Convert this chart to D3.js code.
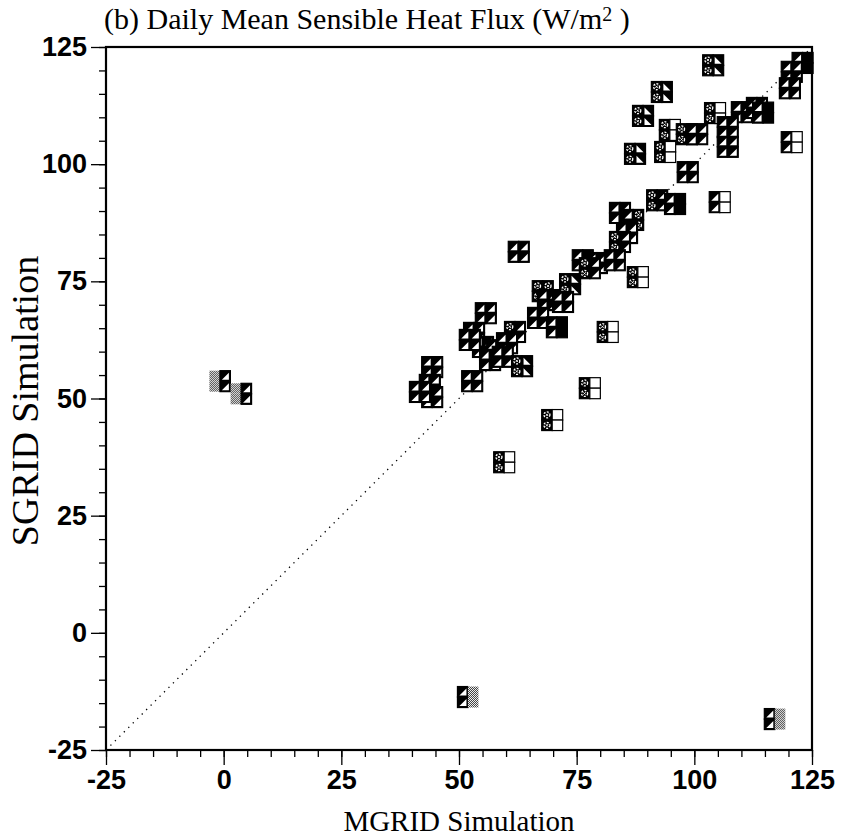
<!DOCTYPE html>
<html>
<head>
<meta charset="utf-8">
<script src="https://cdn.jsdelivr.net/npm/d3@7"></script>
<style>
body { margin: 0; background: #fff; }
svg { display: block; }
</style>
</head>
<body>
<svg></svg>
<script>
// MGRID (x) and SGRID (y) daily mean sensible heat flux, W/m2
var mgrid = [-0.8, 3.7, 51.9, 117.1, 104, 123, 120.7, 120.3, 93.1, 89.1,
    104.4, 110.1, 113.3, 114.6, 94.8, 98.4, 100.6, 107.1, 107.1, 120.7,
    87.4, 93.8, 98.6, 105.4, 92.1, 95.9, 84.2, 87, 85.7, 84.2,
    76.3, 79.3, 83.1, 77.8, 88, 62.7, 73.6, 67.8, 68.9, 72.1,
    66.8, 70.8, 81.6, 55.7, 53.2, 61.9, 55.1, 58, 60.2, 56.6,
    59.3, 52.3, 63.4, 52.8, 44.3, 43.8, 44.3, 41.7, 77.8, 69.8, 59.6]
var sgrid = [53.7, 51, -13.7, -18.4, 121.1, 121.6, 119.7, 116.2, 115.4, 110.3,
    110.9, 111.1, 112, 111, 107.3, 106.4, 106.4, 107.9, 103.7, 104.7,
    102.2, 102.6, 98.3, 91.9, 92.3, 91.5, 89.6, 88.1, 85.3, 83.4,
    79.5, 78.9, 79.5, 77.8, 75.9, 81.3, 74.4, 72.9, 71, 70.6,
    67.2, 65.2, 64.2, 68.2, 64, 64.2, 61, 60.3, 61.8, 58.2,
    58.9, 62.5, 56.9, 53.7, 56.7, 52.9, 50.3, 51.4, 52.2, 45.4, 36.4]
// glyph quadrants: top-left, top-right, bottom-left, bottom-right
// T triangle, D dotted, E empty, S solid, R reverse triangle, G grey
var glyphs = ["GTGT", "GTGT", "TGTG", "TGTG", "DRDR", "TSTS", "TTTT", "TTTT", "DRDR", "DRDR",
    "DEDE", "TTTT", "TTTT", "TSTS", "DEDE", "DTDT", "TTTT", "TTTT", "TTTT", "TETE",
    "DRDR", "DEDE", "TTTT", "TETE", "DTDT", "TSTS", "TTTT", "TDTD", "TTTT", "DTDT",
    "TTTT", "TTTT", "TTTT", "DTDT", "DEDE", "TTTT", "DRDR", "DDDD", "TTTT", "TTTT",
    "TTTT", "TSTS", "DEDE", "TTTT", "TTTT", "DTDT", "TTTT", "TSTS", "TTTT", "TTTT",
    "TTTT", "TTTT", "DRDR", "TTTT", "TTTT", "TTTT", "TTTT", "TTTT", "DEDE", "DEDE", "DEDE"]
var majorTicks = [-25, 0, 25, 50, 75, 100, 125]

var screen = {width: 842, height: 838}
var margins = {top: 47, right: 30, bottom: 88, left: 106}
var width = screen.width - margins.left - margins.right
var height = screen.height - margins.top - margins.bottom

var svg = d3.select("svg")
    .attr("width", screen.width)
    .attr("height", screen.height)

var defs = svg.append("defs")
var grey = defs.append("pattern").attr("id", "grey")
    .attr("patternUnits", "userSpaceOnUse").attr("width", 2).attr("height", 2)
grey.append("rect").attr("width", 2).attr("height", 2).attr("fill", "#fff")
grey.append("rect").attr("width", 1).attr("height", 1).attr("fill", "#333")
grey.append("rect").attr("x", 1).attr("y", 1).attr("width", 1).attr("height", 1).attr("fill", "#333")

var xScale = d3.scaleLinear().domain([-25, 125]).range([0, width])
var yScale = d3.scaleLinear().domain([-25, 125]).range([height, 0])

var graph = svg.append("g")
    .attr("transform", "translate(" + margins.left + "," + margins.top + ")")

// minor ticks every 5
var minor = d3.range(-25, 126, 5)
graph.append("g")
    .attr("transform", "translate(0," + height + ")")
    .call(d3.axisBottom(xScale).tickValues(minor).tickSize(7).tickFormat(""))
graph.append("g")
    .call(d3.axisLeft(yScale).tickValues(minor).tickSize(7).tickFormat(""))

var label = function(d) { return String(d) }
graph.append("g")
    .attr("transform", "translate(0," + height + ")")
    .call(d3.axisBottom(xScale).tickValues(majorTicks).tickSize(15).tickPadding(5).tickFormat(label))
graph.append("g")
    .call(d3.axisLeft(yScale).tickValues(majorTicks).tickSize(15).tickPadding(4).tickFormat(label))

graph.selectAll(".domain").remove()
graph.selectAll(".tick line").attr("stroke", "#000").attr("stroke-width", 1.3)
graph.selectAll(".tick text")
    .attr("font-family", "'Liberation Sans', Arial, sans-serif")
    .attr("font-weight", "bold")
    .attr("font-size", 27)
    .attr("fill", "#000")

// frame
graph.append("rect")
    .attr("x", 0).attr("y", 0)
    .attr("width", width).attr("height", height)
    .attr("fill", "none").attr("stroke", "#000").attr("stroke-width", 2.2)

// 1:1 line
graph.append("line")
    .attr("x1", xScale(-25)).attr("y1", yScale(-25))
    .attr("x2", xScale(125)).attr("y2", yScale(125))
    .attr("stroke", "#000").attr("stroke-width", 1.3)
    .attr("stroke-dasharray", "1.3,5")

var points = mgrid.map(function(m, i) {
    return {x: m, y: sgrid[i], glyph: glyphs[i]}
})

var cs = 10.5
var cells = [[-cs, -cs], [0, -cs], [-cs, 0], [0, 0]]

var drawCell = function(g, type, x, y) {
    if (type == "G") {
        g.append("rect").attr("x", x).attr("y", y).attr("width", cs).attr("height", cs)
            .attr("fill", "url(#grey)")
        return
    }
    var fill = {T: "#000", D: "#000", E: "#fff", S: "#000", R: "#000"}[type]
    g.append("rect").attr("x", x).attr("y", y).attr("width", cs).attr("height", cs)
        .attr("fill", fill).attr("stroke", "#000").attr("stroke-width", 1.2)
    if (type == "T") {
        g.append("polygon")
            .attr("points", [[x + 2, y + cs - 1.5], [x + cs - 1.5, y + cs - 1.5], [x + cs - 1.5, y + 2]].join(" "))
            .attr("fill", "#fff")
    }
    if (type == "R") {
        g.append("polygon")
            .attr("points", [[x + 1.5, y + 2], [x + 1.5, y + cs - 1.5], [x + cs - 2, y + cs - 1.5]].join(" "))
            .attr("fill", "#fff")
    }
    if (type == "D") {
        var cx = x + cs / 2, cy = y + cs / 2
        g.append("circle").attr("cx", cx).attr("cy", cy).attr("r", 3)
            .attr("fill", "none").attr("stroke", "#fff").attr("stroke-width", 1.3)
            .attr("stroke-dasharray", "2,1.4")
        g.append("path")
            .attr("d", "M" + (cx - 1.2) + "," + (cy - 1.2) + "L" + (cx + 1.2) + "," + (cy + 1.2) +
                "M" + (cx + 1.2) + "," + (cy - 1.2) + "L" + (cx - 1.2) + "," + (cy + 1.2))
            .attr("stroke", "#fff").attr("stroke-width", 0.9)
    }
}

var marks = graph.selectAll(".mark")
    .data(points)
    .enter()
    .append("g")
    .attr("class", "mark")
    .attr("transform", function(d) {
        return "translate(" + xScale(d.x) + "," + yScale(d.y) + ")"
    })

marks.each(function(d) {
    var g = d3.select(this)
    cells.forEach(function(c, k) {
        drawCell(g, d.glyph[k], c[0], c[1])
    })
})

// titles
svg.append("text")
    .attr("x", 104).attr("y", 29)
    .attr("font-family", "'Liberation Serif', 'Times New Roman', serif")
    .attr("font-size", 30)
    .html("(b) Daily Mean Sensible Heat Flux (W/m<tspan font-size='20' dy='-8'>2</tspan><tspan dy='8'> )</tspan>")

svg.append("text")
    .attr("x", margins.left + width / 2).attr("y", 831)
    .attr("text-anchor", "middle")
    .attr("font-family", "'Liberation Serif', 'Times New Roman', serif")
    .attr("font-size", 29)
    .text("MGRID Simulation")

svg.append("text")
    .attr("transform", "translate(38,401) rotate(-90)")
    .attr("text-anchor", "middle")
    .attr("font-family", "'Liberation Serif', 'Times New Roman', serif")
    .attr("font-size", 38)
    .text("SGRID Simulation")
</script>
</body>
</html>
